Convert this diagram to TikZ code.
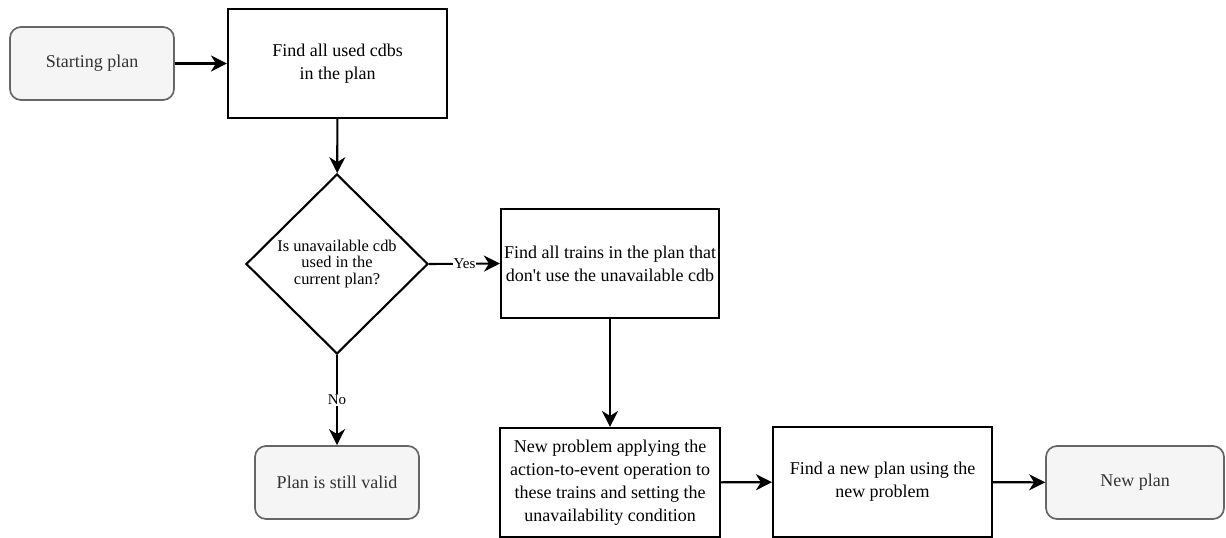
\documentclass[tikz,border=0pt]{standalone}
\usepackage{fontspec}
\setmainfont{Liberation Serif}[Ligatures=TeXOff]
\usetikzlibrary{arrows.meta,shapes.geometric}
\definecolor{termfill}{HTML}{F5F5F5}
\definecolor{termedge}{HTML}{666666}
\definecolor{termtext}{HTML}{333333}
\begin{document}
\begin{tikzpicture}[x=1pt,y=-1pt,
  every node/.style={font=\rmfamily\fontsize{18}{23}\selectfont, align=center, inner sep=0pt},
  proc/.style={draw=black, line width=2.1pt, fill=white, rectangle},
  term/.style={draw=termedge, line width=1.7pt, fill=termfill, rounded corners=11pt, text=termtext, rectangle},
  decision/.style={draw=black, diamond, line width=2.1pt, fill=white, font=\rmfamily\fontsize{16.4}{16.5}\selectfont},
  flow/.style={-{Stealth[length=16pt,width=16pt,inset=5pt]}, line width=2.1pt},
  lbl/.style={font=\rmfamily\fontsize{15}{18}\selectfont, fill=white, inner sep=1pt}]
\useasboundingbox (0,0) rectangle (1226,538);

% nodes
\node[term, minimum width=164pt, minimum height=73pt] (start) at (92,63.5) {Starting plan};
\node[proc, minimum width=219pt, minimum height=109pt] (find) at (337.5,63.5) {Find all used cdbs\\in the plan};
\node[decision, minimum width=182pt, minimum height=180pt] (dec) at (337,264) {Is unavailable cdb\\used in the\\current plan?};
\node[proc, minimum width=218pt, minimum height=109pt] (trains) at (610,263.5) {Find all trains in the plan that\\don't use the unavailable cdb};
\node[term, minimum width=164pt, minimum height=73pt] (valid) at (337,482.5) {Plan is still valid};
\node[proc, minimum width=220pt, minimum height=109pt] (newprob) at (610,482.5) {New problem applying the\\action-to-event operation to\\these trains and setting the\\unavailability condition};
\node[proc, minimum width=219pt, minimum height=110pt] (search) at (882.5,482) {Find a new plan using the\\new problem};
\node[term, minimum width=178pt, minimum height=73pt] (result) at (1135,482.5) {New plan};

% connectors
\draw[flow] (start) -- (find);
\draw[flow] (find) -- (dec);
\draw[flow] (dec.east) -- node[lbl] {Yes} (trains.west);
\draw[flow] (dec.south) -- node[lbl] {No} (valid.north);
\draw[flow] (trains) -- (newprob);
\draw[flow] (newprob) -- (search);
\draw[flow] (search) -- (result);
\end{tikzpicture}
\end{document}
